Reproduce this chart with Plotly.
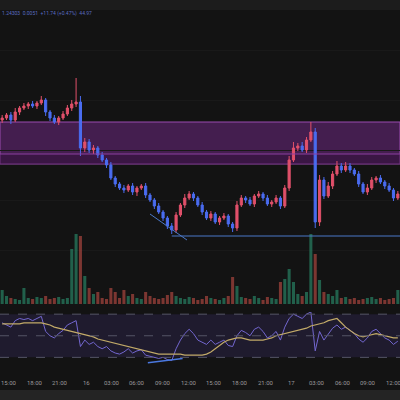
import plotly.graph_objects as go

# 30-minute candles, price in chart units
closes = [282, 285, 280, 288, 292, 294, 296, 294, 297, 300, 288, 282, 278, 282, 286, 292,
          296, 298, 252, 258, 250, 252, 245, 240, 235, 222, 216, 212, 210, 214, 208, 212,
          214, 205, 200, 194, 188, 182, 174, 170, 185, 195, 202, 206, 202, 195, 188, 182,
          186, 178, 182, 184, 176, 172, 195, 202, 200, 196, 204, 206, 202, 196, 198, 202,
          194, 212, 240, 252, 254, 250, 260, 268, 178, 220, 204, 214, 226, 234, 230, 234,
          230, 226, 216, 208, 212, 220, 222, 218, 214, 210, 202, 206]
wick_up = [3, 2, 3, 4, 2, 3, 2, 3, 2, 4, 2, 2, 3, 2, 3, 3, 4, 24, 6, 4, 3, 3, 2, 3, 2, 3, 2,
           2, 3, 2, 3, 2, 2, 3, 2, 2, 3, 2, 2, 3, 3, 2, 4, 3, 2, 2, 3, 2, 3, 2, 2, 3, 2, 2, 4,
           3, 2, 3, 2, 3, 2, 3, 2, 3, 2, 3, 4, 6, 3, 4, 3, 10, 4, 5, 3, 4, 3, 5, 3, 4, 3, 2,
           3, 2, 4, 3, 2, 3, 2, 3, 2, 3]
wick_dn = [3, 2, 4, 2, 3, 2, 3, 2, 3, 2, 4, 3, 2, 3, 2, 2, 3, 3, 8, 4, 3, 4, 3, 2, 3, 2, 3,
           2, 3, 2, 3, 4, 2, 3, 2, 3, 2, 3, 3, 4, 3, 2, 3, 2, 3, 2, 3, 2, 3, 2, 3, 2, 3, 4, 3,
           2, 3, 2, 3, 2, 3, 2, 3, 2, 3, 2, 3, 2, 3, 2, 3, 2, 6, 4, 3, 2, 3, 2, 3, 2, 3, 2,
           3, 2, 3, 2, 3, 2, 3, 2, 3, 2]
volume = [14, 8, 6, 5, 4, 16, 6, 5, 7, 6, 8, 5, 6, 7, 5, 6, 55, 70, 68, 28, 16, 10, 12,
          6, 5, 16, 12, 6, 14, 8, 10, 6, 5, 12, 8, 6, 5, 6, 9, 12, 8, 6, 5, 7, 6, 4, 5, 8,
          6, 5, 4, 6, 8, 27, 18, 7, 6, 5, 8, 6, 4, 7, 6, 5, 22, 25, 35, 22, 10, 8, 12, 70,
          50, 24, 12, 10, 8, 14, 6, 7, 5, 6, 4, 5, 6, 7, 5, 6, 4, 5, 6, 14]
rsi = [62, 60, 58, 64, 66, 65, 66, 64, 66, 68, 54, 50, 48, 52, 55, 60, 62, 64, 40, 46, 42,
       44, 40, 38, 40, 36, 34, 33, 35, 38, 34, 36, 37, 32, 31, 30, 29, 30, 28, 27, 38, 46,
       52, 56, 52, 46, 44, 42, 46, 42, 44, 46, 41, 40, 50, 55, 53, 50, 56, 58, 54, 48, 50,
       54, 46, 58, 66, 70, 68, 66, 70, 72, 36, 54, 46, 52, 57, 60, 56, 58, 55, 52, 47, 44,
       48, 54, 56, 52, 48, 46, 42, 45]
rsi_ma = [61, 61, 61, 61, 61, 62, 62, 62, 62, 62, 61, 60, 58, 57, 56, 55, 54, 53, 52, 51,
          50, 49, 47, 46, 45, 44, 43, 42, 41, 40, 39, 38, 37, 36, 35, 34, 33, 33, 33, 33,
          33, 33, 32, 32, 32, 32, 32, 33, 35, 38, 41, 44, 46, 47, 48, 48, 47, 46, 46, 46,
          46, 47, 48, 50, 51, 52, 53, 54, 55, 56, 57, 59, 60, 61, 62, 64, 65, 66, 62, 58,
          55, 52, 50, 49, 50, 51, 52, 51, 50, 49, 48, 48]
time_labels = ["15:00", "18:00", "21:00", "16", "03:00", "06:00", "09:00", "12:00",
               "15:00", "18:00", "21:00", "17", "03:00", "06:00", "09:00", "12:00"]

zone_top, zone_mid, zone_bot = 278, 246, 236
support = 164

idx = list(range(len(closes)))
opens = [closes[0] - 2] + closes[:-1]
highs = [max(o, c) + u for o, c, u in zip(opens, closes, wick_up)]
lows = [min(o, c) - d for o, c, d in zip(opens, closes, wick_dn)]
vol_colors = ["rgba(40,130,100,0.7)" if c >= o else "rgba(170,70,62,0.7)"
              for o, c in zip(opens, closes)]

fig = go.Figure()
fig.add_trace(go.Candlestick(x=idx, open=opens, high=highs, low=lows, close=closes,
                             increasing=dict(line=dict(color="#e0506a", width=1), fillcolor="#e0506a"),
                             decreasing=dict(line=dict(color="#4a6cf0", width=1), fillcolor="#4a6cf0"),
                             whiskerwidth=0, xaxis="x", yaxis="y"))
fig.add_trace(go.Bar(x=idx, y=volume, marker_color=vol_colors, marker_line_width=0,
                     width=0.7, xaxis="x", yaxis="y2"))
fig.add_trace(go.Scatter(x=idx, y=rsi, mode="lines", line=dict(color="#7367d0", width=1),
                         xaxis="x", yaxis="y3"))
fig.add_trace(go.Scatter(x=idx, y=rsi_ma, mode="lines", line=dict(color="#c2aa68", width=1.2),
                         xaxis="x", yaxis="y3"))

shapes = [
    dict(type="rect", xref="paper", yref="paper", x0=0, x1=1, y0=0.975, y1=1,
         fillcolor="#1c1c1c", line_width=0, layer="below"),
    dict(type="rect", xref="paper", yref="paper", x0=0, x1=1, y0=0, y1=0.025,
         fillcolor="#242424", line_width=0, layer="below"),
    dict(type="rect", xref="x", yref="y", x0=-0.5, x1=len(idx) - 0.5, y0=zone_bot, y1=zone_top,
         fillcolor="rgba(110,40,130,0.55)", line=dict(color="#9a4ab0", width=1), layer="below"),
    dict(type="rect", xref="x", yref="y", x0=-0.5, x1=len(idx) - 0.5, y0=zone_bot, y1=zone_mid,
         fillcolor="rgba(40,10,50,0.35)", line_width=0, layer="below"),
    dict(type="line", xref="x", yref="y", x0=-0.5, x1=len(idx) - 0.5, y0=zone_mid, y1=zone_mid,
         line=dict(color="#8a3fa0", width=1)),
    dict(type="line", xref="x", yref="y", x0=39, x1=len(idx) - 0.5, y0=support, y1=support,
         line=dict(color="#4a78c8", width=1)),
    dict(type="line", xref="x", yref="y", x0=34, x1=42.5, y0=186, y1=160,
         line=dict(color="#4a78c8", width=1)),
    dict(type="rect", xref="x", yref="y3", x0=-0.5, x1=len(idx) - 0.5, y0=30, y1=70,
         fillcolor="rgba(60,45,110,0.3)", line_width=0, layer="below"),
    dict(type="line", xref="x", yref="y3", x0=33.5, x1=41.5, y0=25, y1=29,
         line=dict(color="#4a78e0", width=1.5)),
]
for lvl in (30, 50, 70):
    shapes.append(dict(type="line", xref="x", yref="y3", x0=-0.5, x1=len(idx) - 0.5, y0=lvl, y1=lvl,
                       line=dict(color="#555566", width=1, dash="dash")))

# time axis labels as annotations so the edge labels are not dropped
annotations = [dict(text=lab, x=1.6 + 5.9 * k, xref="x", y=0.043, yref="paper",
                    showarrow=False, yanchor="middle",
                    font=dict(family="Roboto", size=6, color="#9a9a9a"))
               for k, lab in enumerate(time_labels)]
annotations.append(dict(text="1.24303  0.0051  +11.74 (+0.47%)  44.97", xref="paper", yref="paper",
                        x=0.0, y=0.967, xanchor="left", yanchor="middle", showarrow=False,
                        font=dict(family="Roboto", size=5, color="#5a6cc0")))

fig.update_layout(
    width=400, height=400, margin=dict(l=0, r=0, t=0, b=0),
    paper_bgcolor="#131313", plot_bgcolor="rgba(0,0,0,0)", showlegend=False,
    shapes=shapes, bargap=0.2, annotations=annotations,
    xaxis=dict(range=[-0.5, len(idx) - 0.5], rangeslider_visible=False, showgrid=False,
               zeroline=False, anchor="y3", showticklabels=False),
    yaxis=dict(domain=[0.25, 0.94], range=[100, 376], showgrid=True, gridcolor="#191919",
               showticklabels=False, zeroline=False),
    yaxis2=dict(domain=[0.24, 0.42], range=[0, 72], showgrid=False, showticklabels=False,
                zeroline=False),
    yaxis3=dict(domain=[0.085, 0.22], range=[22, 72], showgrid=False, showticklabels=False,
                zeroline=False),
)

fig.write_html("out.html", config={"displayModeBar": False},
               post_script="document.body.style.margin='0';")
